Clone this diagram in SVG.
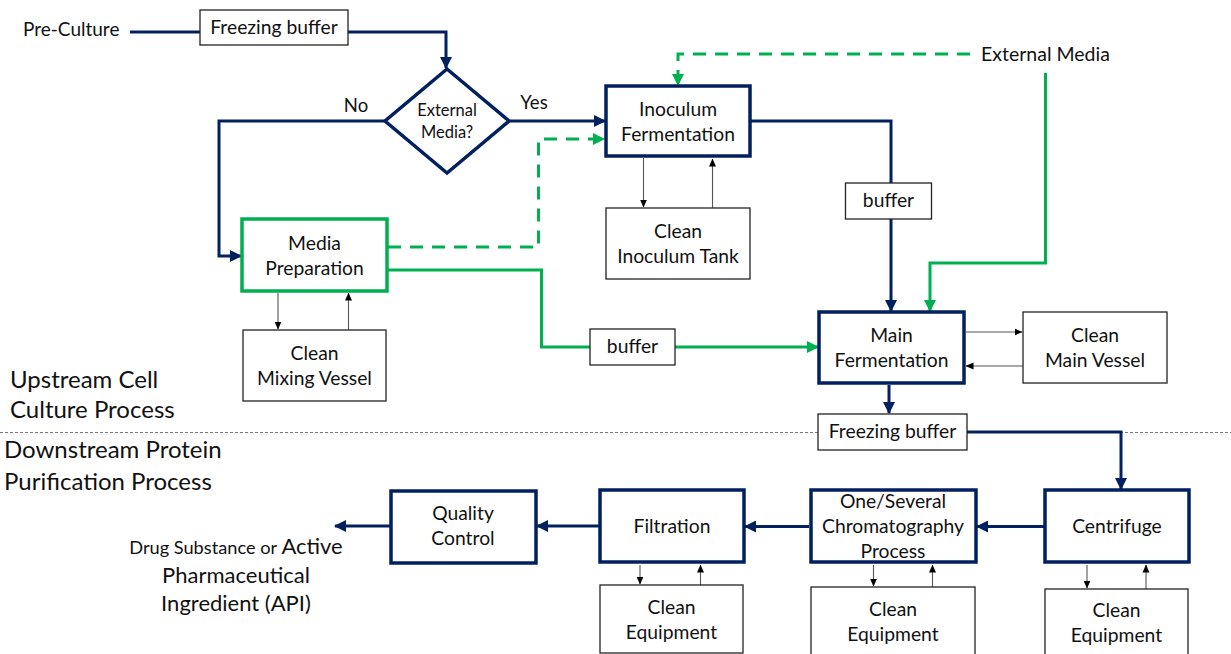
<svg xmlns="http://www.w3.org/2000/svg" width="1231" height="654" viewBox="0 0 1231 654">
<style>
text{font-family:Lato,"Liberation Sans",sans-serif;fill:#111;}
.t{font-size:19.3px;text-anchor:middle;}
.big{font-size:24px;}
.proc{fill:#fff;stroke:#002060;stroke-width:3.5;}
.green{fill:#fff;stroke:#00b050;stroke-width:3.5;}
.clean{fill:#fff;stroke:#222;stroke-width:1.3;}
.nv{fill:none;stroke:#002060;stroke-width:3;}
.gs{fill:none;stroke:#00b050;stroke-width:3;}
.gd{fill:none;stroke:#00b050;stroke-width:3;stroke-dasharray:13 9;}
.thin{fill:none;stroke:#555;stroke-width:1.1;}
</style>
<defs>
<marker id="an" markerUnits="userSpaceOnUse" markerWidth="12" markerHeight="12" viewBox="0 0 12 12" refX="11" refY="6" orient="auto"><path d="M0,0 L12,6 L0,12 Z" fill="#002060"/></marker>
<marker id="ag" markerUnits="userSpaceOnUse" markerWidth="12" markerHeight="12" viewBox="0 0 12 12" refX="11" refY="6" orient="auto"><path d="M0,0 L12,6 L0,12 Z" fill="#00b050"/></marker>
<marker id="ak" markerUnits="userSpaceOnUse" markerWidth="8" markerHeight="8" viewBox="0 0 8 8" refX="7.5" refY="4" orient="auto"><path d="M0,0.5 L8,4 L0,7.5 Z" fill="#000"/></marker>
</defs>
<line x1="0" y1="432.5" x2="1231" y2="432.5" stroke="#777" stroke-width="1" stroke-dasharray="3 2"/>
<g id="connectors">
<path class="nv" d="M130,32 H200"/>
<path class="nv" d="M348,32 H446 V68" marker-end="url(#an)"/>
<path class="nv" d="M385,121 H219 V256 H241" marker-end="url(#an)"/>
<path class="nv" d="M509,121 H605" marker-end="url(#an)"/>
<path class="gd" d="M970,54 H678 V85" marker-end="url(#ag)"/>
<path class="gs" d="M1045.5,73 V263 H930 V311" marker-end="url(#ag)"/>
<path class="nv" d="M750,121 H891 V183"/>
<path class="nv" d="M891,219 V311" marker-end="url(#an)"/>
<path class="gd" d="M388,247 H538.5 V139 H604" marker-end="url(#ag)"/>
<path class="gs" d="M388,270 H541.5 V347 H590"/>
<path class="gs" d="M675,347 H818" marker-end="url(#ag)"/>
<path class="nv" d="M889,385 V413" marker-end="url(#an)"/>
<path class="nv" d="M967,432 H1121 V489" marker-end="url(#an)"/>
<path class="nv" d="M1044,526.5 H977" marker-end="url(#an)"/>
<path class="nv" d="M809,526.5 H745" marker-end="url(#an)"/>
<path class="nv" d="M599,526 H537" marker-end="url(#an)"/>
<path class="nv" d="M390,526 H335" marker-end="url(#an)"/>
<path class="thin" d="M643.5,158 V207" marker-end="url(#ak)"/>
<path class="thin" d="M712.5,208 V159" marker-end="url(#ak)"/>
<path class="thin" d="M278,293 V329" marker-end="url(#ak)"/>
<path class="thin" d="M348.5,330 V293" marker-end="url(#ak)"/>
<path class="thin" d="M966,332 H1022" marker-end="url(#ak)"/>
<path class="thin" d="M1023,366 H966" marker-end="url(#ak)"/>
<path class="thin" d="M640,565 V584" marker-end="url(#ak)"/>
<path class="thin" d="M700.5,585 V565" marker-end="url(#ak)"/>
<path class="thin" d="M873.5,565 V586" marker-end="url(#ak)"/>
<path class="thin" d="M932.5,587 V565" marker-end="url(#ak)"/>
<path class="thin" d="M1087,565 V588" marker-end="url(#ak)"/>
<path class="thin" d="M1146,589 V565" marker-end="url(#ak)"/>
</g>
<g id="preculture"><text x="23" y="36" font-size="19">Pre-Culture</text></g>
<g id="freezing1"><rect class="clean" x="200" y="10" width="148" height="35"/><text class="t" x="274" y="34">Freezing buffer</text></g>
<g id="decision"><polygon points="447,69 509,121 447,173 385,121" fill="#fff" stroke="#002060" stroke-width="3.5" stroke-linejoin="miter"/>
<text class="t" x="447" y="116" style="font-size:16.5px">External</text><text class="t" x="447" y="138" style="font-size:16.5px">Media?</text></g>
<g id="no"><text class="t" x="356" y="112" style="font-size:18.5px">No</text></g>
<g id="yes"><text class="t" x="534" y="109" style="font-size:18.5px">Yes</text></g>
<g id="externalmedia"><text x="981" y="61" font-size="19.5">External Media</text></g>
<g id="inoculum"><rect class="proc" x="606" y="86" width="144" height="70"/><text class="t" x="678" y="116">Inoculum</text><text class="t" x="678" y="141">Fermentation</text></g>
<g id="cleaninoculum"><rect class="clean" x="606" y="208" width="144" height="71"/><text class="t" x="678" y="238">Clean</text><text class="t" x="678" y="263">Inoculum Tank</text></g>
<g id="buffer1"><rect class="clean" x="845.5" y="183" width="86" height="36"/><text class="t" x="888.5" y="207">buffer</text></g>
<g id="mediaprep"><rect class="green" x="242" y="219" width="145" height="72"/><text class="t" x="314.5" y="250">Media</text><text class="t" x="314.5" y="275">Preparation</text></g>
<g id="cleanmixing"><rect class="clean" x="243" y="330" width="143" height="71"/><text class="t" x="314.5" y="360">Clean</text><text class="t" x="314.5" y="385">Mixing Vessel</text></g>
<g id="buffer2"><rect class="clean" x="590" y="329" width="85" height="36"/><text class="t" x="632.5" y="353">buffer</text></g>
<g id="mainferm"><rect class="proc" x="819" y="312" width="145" height="71"/><text class="t" x="891.5" y="342">Main</text><text class="t" x="891.5" y="367">Fermentation</text></g>
<g id="cleanmain"><rect class="clean" x="1023" y="312" width="144" height="71"/><text class="t" x="1095" y="342">Clean</text><text class="t" x="1095" y="367">Main Vessel</text></g>
<g id="freezing2"><rect class="clean" x="818" y="414" width="149" height="36"/><text class="t" x="892.5" y="438">Freezing buffer</text></g>
<g id="upstream"><text class="big" x="10" y="388">Upstream Cell</text><text class="big" x="10" y="418">Culture Process</text></g>
<g id="downstream"><text class="big" x="4" y="458">Downstream Protein</text><text class="big" x="4" y="490">Purification Process</text></g>
<g id="centrifuge"><rect class="proc" x="1045" y="490" width="144" height="72"/><text class="t" x="1117" y="533">Centrifuge</text></g>
<g id="chrom"><rect class="proc" x="811" y="490" width="165" height="72"/><text class="t" x="893" y="508">One/Several</text><text class="t" x="893" y="533">Chromatography</text><text class="t" x="893" y="558">Process</text></g>
<g id="filtration"><rect class="proc" x="600" y="490" width="144" height="72"/><text class="t" x="672" y="533">Filtration</text></g>
<g id="qc"><rect class="proc" x="391" y="491" width="145" height="72"/><text class="t" x="463" y="520">Quality</text><text class="t" x="463" y="545">Control</text></g>
<g id="api"><text x="236" y="554" text-anchor="middle"><tspan font-size="18.2">Drug Substance or </tspan><tspan font-size="22">Active</tspan></text>
<text x="236" y="583" text-anchor="middle" font-size="22">Pharmaceutical</text><text x="236" y="611" text-anchor="middle" font-size="22">Ingredient (API)</text></g>
<g id="cleanfilt"><rect class="clean" x="600" y="585" width="143" height="68"/><text class="t" x="671.5" y="614">Clean</text><text class="t" x="671.5" y="639">Equipment</text></g>
<g id="cleanchrom"><rect class="clean" x="811" y="587" width="164" height="72"/><text class="t" x="893" y="616">Clean</text><text class="t" x="893" y="641">Equipment</text></g>
<g id="cleancent"><rect class="clean" x="1045" y="589" width="143" height="70"/><text class="t" x="1116.5" y="617">Clean</text><text class="t" x="1116.5" y="642">Equipment</text></g>
</svg>
